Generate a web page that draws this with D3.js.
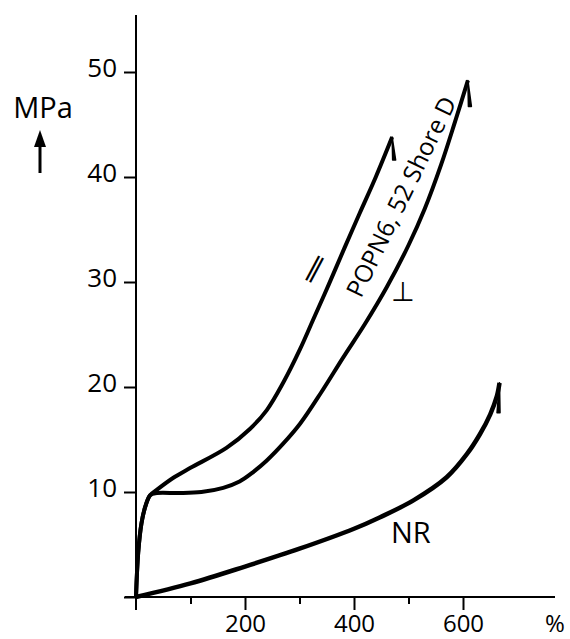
<!DOCTYPE html>
<html><head><meta charset="utf-8">
<script src="https://cdn.jsdelivr.net/npm/d3@7"></script>
<style>
html,body{margin:0;padding:0;background:#fff;}
text{font-family:"Open Sans",sans-serif;fill:#000;}
</style></head>
<body>
<svg id="chart" width="570" height="639"></svg>
<script>
// ---- data (strain %, stress MPa) ----
const parStrain = [0, 4, 10, 17, 26, 38, 70, 100, 166, 209, 240, 270, 301, 325, 354, 383, 410, 440, 470];
const parStress = [0, 4.2, 7.0, 8.6, 9.7, 10.2, 11.4, 12.3, 14.2, 16.0, 17.8, 20.4, 23.6, 26.4, 29.8, 33.3, 36.5, 40.0, 43.8];
const perpStrain = [0, 4, 10, 17, 26, 38, 80, 120, 160, 190, 215, 240, 270, 301, 340, 380, 420, 460, 500, 530, 560, 585, 609];
const perpStress = [0, 4.2, 7.0, 8.6, 9.7, 9.9, 9.9, 10.0, 10.4, 11.0, 11.9, 13.0, 14.6, 16.5, 19.5, 22.8, 26.0, 29.5, 33.5, 37.0, 41.2, 45.2, 49.2];
const nrStrain = [0, 100, 200, 300, 400, 448, 509, 570, 607, 631, 650, 662, 667];
const nrStress = [0, 1.3, 2.9, 4.6, 6.5, 7.6, 9.2, 11.4, 13.6, 15.5, 17.4, 19.1, 20.4];
const yTicks = [0, 10, 20, 30, 40, 50];
const yTickLabels = ["", "10", "20", "30", "40", "50"];
const xMinorTicks = [100, 300, 500];
const xMajorTicks = [200, 400, 600];
const xTickLabels = ["200", "400", "600"];

const svg = d3.select("#chart");
const x = d3.scaleLinear().domain([0, 600]).range([136, 463]);
const y = d3.scaleLinear().domain([0, 50]).range([597, 72]);

// axis lines
svg.append("line").attr("x1", 136).attr("x2", 136).attr("y1", 15).attr("y2", 610)
  .attr("stroke", "#000").attr("stroke-width", 2);
svg.append("line").attr("x1", 125).attr("x2", 555).attr("y1", 597).attr("y2", 597)
  .attr("stroke", "#000").attr("stroke-width", 2);

// y axis ticks
const yAx = svg.append("g").attr("transform", "translate(136,0)")
  .call(d3.axisLeft(y).tickValues(yTicks).tickSize(12).tickPadding(7)
    .tickFormat((d, i) => yTickLabels[i]));
yAx.select(".domain").remove();
yAx.selectAll("line").attr("stroke", "#000").attr("stroke-width", 2);
yAx.selectAll("text").attr("font-size", 26).attr("dy", "0.16em")
  .style("font-family", "'Open Sans',sans-serif");

// x axis ticks
const xMin = svg.append("g").attr("transform", "translate(0,597)")
  .call(d3.axisBottom(x).tickValues(xMinorTicks).tickSize(7).tickFormat(""));
xMin.select(".domain").remove();
xMin.selectAll("line").attr("stroke", "#000").attr("stroke-width", 2);
const xMaj = svg.append("g").attr("transform", "translate(0,597)")
  .call(d3.axisBottom(x).tickValues(xMajorTicks).tickSize(13).tickPadding(6)
    .tickFormat((d, i) => xTickLabels[i]));
xMaj.select(".domain").remove();
xMaj.selectAll("line").attr("stroke", "#000").attr("stroke-width", 2);
xMaj.selectAll("text").attr("font-size", 24).attr("y", 0).attr("dy", "35px")
  .style("font-family", "'Open Sans',sans-serif");

// axis titles
svg.append("text").attr("x", 555).attr("y", 632).attr("text-anchor", "middle")
  .attr("font-size", 24).text("%");
svg.append("text").attr("x", 43).attr("y", 118).attr("text-anchor", "middle")
  .attr("font-size", 29).text("MPa");
svg.append("line").attr("x1", 40).attr("x2", 40).attr("y1", 173).attr("y2", 142)
  .attr("stroke", "#000").attr("stroke-width", 3);
svg.append("path").attr("d", "M40,130 L46,147 L34,147 Z").attr("fill", "#000");

// curves
const line = d3.line().x(d => x(d[0])).y(d => y(d[1])).curve(d3.curveCatmullRom.alpha(0.5));
function series(xs, ys) { return xs.map((v, i) => [v, ys[i]]); }
const curves = [
  {data: series(parStrain, parStress), w: 4, barb: [2, 23]},
  {data: series(perpStrain, perpStress), w: 4, barb: [2, 26]},
  {data: series(nrStrain, nrStress), w: 4.5, barb: [-1, 30]}
];
curves.forEach(c => {
  svg.append("path").attr("d", line(c.data)).attr("fill", "none")
    .attr("stroke", "#000").attr("stroke-width", c.w).attr("stroke-linejoin", "round");
  const last = c.data[c.data.length - 1];
  const px = x(last[0]), py = y(last[1]);
  svg.append("path")
    .attr("d", `M${px},${py} L${px + c.barb[0] + 1.5},${py + c.barb[1]} L${px + c.barb[0] - 1.5},${py + c.barb[1]} Z`)
    .attr("fill", "#000").attr("stroke", "#000").attr("stroke-width", 1.5)
    .attr("stroke-linejoin", "round");
});

// labels
svg.append("text").attr("transform", "translate(361,299) rotate(-64)")
  .attr("font-size", 24.5).text("POPN6, 52 Shore D");
svg.append("text").attr("transform", "translate(311,276) rotate(28)")
  .attr("text-anchor", "middle").attr("font-size", 28)
  .style("font-family", "'DejaVu Sans',sans-serif").text("∥");
svg.append("text").attr("x", 403).attr("y", 301).attr("text-anchor", "middle")
  .attr("font-size", 27).style("font-family", "'DejaVu Sans',sans-serif").text("⊥");
svg.append("text").attr("x", 391).attr("y", 543).attr("font-size", 29).text("NR");
</script>
</body></html>
